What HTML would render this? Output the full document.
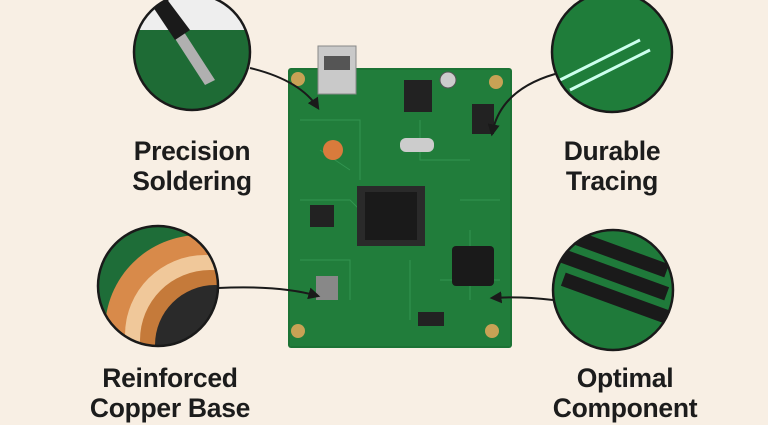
<!DOCTYPE html>
<html><head><meta charset="utf-8"><style>
html,body{margin:0;padding:0;width:768px;height:425px;overflow:hidden;background:#f8efe4;font-family:"Liberation Sans",sans-serif}
.t{position:absolute;font-weight:bold;font-size:26.5px;color:#1c1c1c;text-align:center;line-height:30px;letter-spacing:-0.3px}
</style></head><body>
<svg width="768" height="425" style="position:absolute;left:0;top:0">
<defs>
<clipPath id="c1"><circle cx="192" cy="52" r="58"/></clipPath>
<clipPath id="c2"><circle cx="612" cy="52" r="60"/></clipPath>
<clipPath id="c3"><circle cx="158" cy="286" r="60"/></clipPath>
<clipPath id="c4"><circle cx="613" cy="290" r="60"/></clipPath>
<marker id="a" viewBox="0 0 10 10" refX="8" refY="5" markerWidth="6" markerHeight="6" orient="auto"><path d="M0 0L10 5L0 10z" fill="#1a1a1a"/></marker>
</defs>
<rect x="288" y="68" width="224" height="280" rx="3" fill="#1c7335"/>
<rect x="290" y="70" width="220" height="276" fill="#217d3b"/>
<g stroke="#3aa05a" stroke-width="1" fill="none" opacity="0.7">
<path d="M300 120 H360 V180 M300 200 H350 L360 210 M420 120 V160 H470 M460 200 H500 M300 260 H350 V300 M410 260 V320 M440 280 H500 M320 150 L350 170 M470 230 V300"/>
</g>
<rect x="318" y="46" width="38" height="48" fill="#c9c9c9" stroke="#888"/>
<rect x="324" y="56" width="26" height="14" fill="#555"/>
<rect x="357" y="186" width="68" height="60" fill="#2a2a2a"/>
<rect x="365" y="192" width="52" height="48" fill="#1a1a1a"/>
<circle cx="333" cy="150" r="10" fill="#d97b3c"/>
<rect x="400" y="138" width="34" height="14" rx="6" fill="#ccc"/>
<rect x="404" y="80" width="28" height="32" fill="#222"/>
<circle cx="448" cy="80" r="8" fill="#ccc" stroke="#555"/>
<rect x="472" y="104" width="22" height="30" fill="#222"/>
<rect x="310" y="205" width="24" height="22" fill="#222"/>
<rect x="452" y="246" width="42" height="40" rx="4" fill="#1a1a1a"/>
<rect x="316" y="276" width="22" height="24" fill="#888"/>
<rect x="418" y="312" width="26" height="14" fill="#222"/>
<g fill="#c8a255"><circle cx="298" cy="79" r="7"/><circle cx="496" cy="82" r="7"/><circle cx="298" cy="331" r="7"/><circle cx="492" cy="331" r="7"/></g>
<g stroke="#1a1a1a" stroke-width="2" fill="none" marker-end="url(#a)">
<path d="M250 68 Q300 80 318 108"/>
<path d="M555 74 Q500 90 492 134"/>
<path d="M218 288 Q280 285 318 296"/>
<path d="M553 300 Q520 296 492 298"/>
</g>
<g clip-path="url(#c1)"><rect x="130" y="-10" width="130" height="130" fill="#1e6b35"/><rect x="130" y="-10" width="130" height="40" fill="#eee"/><path d="M150 0 L205 85 L215 80 L160 -5Z" fill="#b0b0b0"/><path d="M145 -5 L175 40 L190 30 L160 -10Z" fill="#1a1a1a"/></g>
<circle cx="192" cy="52" r="58" fill="none" stroke="#1a1a1a" stroke-width="2.5"/>
<g clip-path="url(#c2)"><rect x="550" y="-10" width="130" height="130" fill="#1f7d3a"/><g stroke="#cfe" stroke-width="3"><path d="M560 80 L640 40 M570 90 L650 50"/></g></g>
<circle cx="612" cy="52" r="60" fill="none" stroke="#1a1a1a" stroke-width="2.5"/>
<g clip-path="url(#c3)"><rect x="95" y="224" width="130" height="130" fill="#1e6d38"/><circle cx="200" cy="330" r="95" fill="#d88a4a"/><circle cx="205" cy="335" r="80" fill="#f0c89a"/><circle cx="210" cy="340" r="70" fill="#c57a3a"/><circle cx="215" cy="345" r="60" fill="#2a2a2a"/></g>
<circle cx="158" cy="286" r="60" fill="none" stroke="#1a1a1a" stroke-width="2.5"/>
<g clip-path="url(#c4)"><rect x="550" y="228" width="130" height="130" fill="#1f7a3a"/><g fill="#1a1a1a"><rect x="560" y="245" width="110" height="14" transform="rotate(20 615 252)"/><rect x="560" y="268" width="110" height="14" transform="rotate(20 615 275)"/><rect x="560" y="291" width="110" height="14" transform="rotate(20 615 298)"/></g></g>
<circle cx="613" cy="290" r="60" fill="none" stroke="#1a1a1a" stroke-width="2.5"/>
</svg>
<div class="t" style="left:102px;top:136px;width:180px">Precision<br>Soldering</div>
<div class="t" style="left:522px;top:136px;width:180px">Durable<br>Tracing</div>
<div class="t" style="left:70px;top:363px;width:200px">Reinforced<br>Copper Base</div>
<div class="t" style="left:525px;top:363px;width:200px">Optimal<br>Component</div>
</body></html>
